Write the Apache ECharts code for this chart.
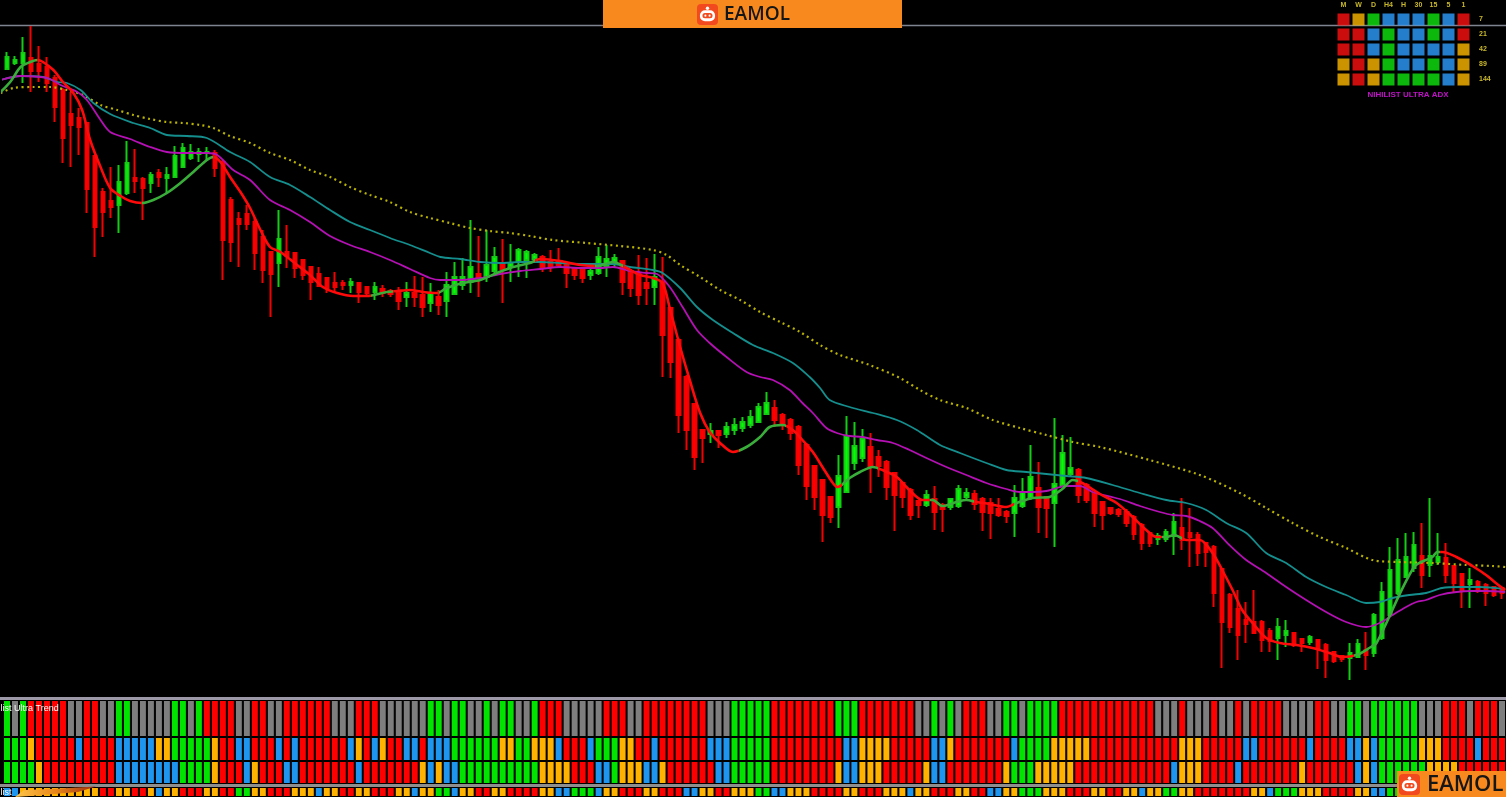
<!DOCTYPE html>
<html><head><meta charset="utf-8">
<script src="https://cdn.jsdelivr.net/npm/echarts/dist/echarts.min.js"></script>
<style>html,body{margin:0;padding:0;background:#000;}#c{width:1506px;height:797px;}</style>
</head><body><div id="c"></div>
<script>
// ---------- DATA ----------
// candles: [open, close, low, high]
const ohlc = [
[1931,1943,1930,1948],[1937,1940,1935,1944],[1937,1947,1917,1963],[1942,1929,1908,1974],[1936,1929,1918,1954],
[1933,1917,1908,1943],[1922,1893,1878,1925],[1910,1862,1837,1912],[1886,1875,1833,1908],[1882,1873,1845,1892],
[1877,1811,1787,1878],[1844,1773,1743,1845],[1808,1788,1763,1812],[1799,1793,1782,1833],[1795,1818,1767,1835],
[1807,1837,1805,1859],[1822,1819,1807,1851],[1821,1812,1780,1823],[1817,1825,1807,1828],[1827,1823,1813,1831],
[1822,1825,1807,1833],[1823,1844,1823,1854],[1833,1852,1832,1857],[1842,1848,1840,1856],[1846,1848,1838,1852],
[1847,1848,1840,1853],[1847,1832,1823,1850],[1838,1760,1720,1840],[1800,1758,1738,1803],[1781,1776,1733,1788],
[1786,1776,1770,1795],[1778,1747,1730,1782],[1763,1730,1717,1770],[1748,1726,1683,1748],[1737,1761,1713,1790],
[1748,1744,1732,1775],[1747,1732,1722,1748],[1740,1725,1720,1741],[1733,1718,1700,1734],[1726,1714,1713,1733],
[1722,1712,1707,1722],[1717,1713,1707,1728],[1717,1715,1710,1720],[1715,1718,1707,1722],[1717,1708,1697,1718],
[1713,1707,1703,1714],[1708,1713,1700,1718],[1711,1707,1703,1715],[1709,1706,1703,1711],[1708,1699,1690,1713],
[1703,1707,1693,1718],[1707,1703,1693,1724],[1705,1693,1683,1723],[1697,1707,1688,1717],[1703,1695,1685,1710],
[1699,1715,1683,1728],[1706,1723,1705,1738],[1715,1723,1710,1742],[1718,1733,1707,1780],[1726,1722,1703,1764],
[1723,1735,1718,1770],[1729,1743,1727,1753],[1736,1731,1697,1761],[1733,1737,1718,1756],[1738,1750,1723,1752],
[1740,1748,1722,1750],[1741,1745,1737,1747],[1743,1732,1728,1745],[1738,1733,1728,1750],[1738,1735,1732,1752],
[1737,1727,1712,1738],[1732,1725,1720,1733],[1730,1722,1717,1731],[1725,1729,1720,1735],[1727,1743,1725,1753],
[1734,1741,1723,1755],[1737,1742,1732,1746],[1739,1718,1705,1740],[1729,1712,1703,1731],[1727,1705,1695,1745],
[1717,1712,1695,1742],[1713,1723,1695,1746],[1718,1665,1623,1743],[1692,1638,1622,1693],[1660,1585,1567,1662],
[1623,1570,1550,1625],[1596,1543,1530,1597],[1570,1562,1537,1571],[1566,1569,1557,1577],[1569,1565,1552,1570],
[1566,1573,1562,1578],[1570,1575,1565,1582],[1572,1578,1568,1583],[1575,1583,1572,1590],[1578,1593,1577,1597],
[1586,1597,1585,1608],[1592,1580,1573,1600],[1585,1575,1570,1587],[1580,1567,1560,1582],[1573,1535,1525,1575],
[1555,1514,1500,1557],[1534,1503,1490,1535],[1520,1485,1458,1521],[1503,1483,1477,1504],[1493,1524,1472,1545],
[1508,1564,1507,1584],[1537,1554,1530,1578],[1542,1561,1538,1571],[1553,1533,1507,1567],[1543,1534,1523,1550],
[1538,1513,1500,1540],[1527,1505,1469,1528],[1517,1503,1492,1518],[1510,1485,1480,1512],[1499,1495,1482,1500],
[1495,1505,1493,1510],[1501,1488,1470,1514],[1495,1491,1468,1497],[1493,1501,1490,1502],[1494,1511,1492,1515],
[1503,1507,1500,1512],[1506,1496,1490,1510],[1501,1488,1469,1503],[1497,1487,1461,1502],[1491,1485,1483,1502],
[1488,1484,1477,1490],[1487,1502,1463,1515],[1494,1508,1492,1522],[1502,1523,1500,1555],[1512,1493,1467,1538],
[1503,1492,1462,1503],[1497,1516,1453,1582],[1515,1547,1513,1565],[1526,1532,1523,1563],[1530,1505,1497,1532],
[1515,1500,1497,1517],[1507,1487,1473,1508],[1498,1485,1470,1498],[1492,1487,1485,1493],[1490,1486,1483,1492],
[1488,1477,1473,1491],[1483,1466,1460,1485],[1475,1457,1450,1477],[1467,1457,1453,1468],[1461,1464,1455,1467],
[1461,1468,1458,1471],[1464,1478,1445,1487],[1472,1460,1450,1502],[1467,1463,1433,1492],[1465,1447,1434,1468],
[1457,1448,1433,1457],[1453,1407,1393,1455],[1431,1378,1332,1432],[1405,1373,1367,1407],[1391,1365,1340,1410],
[1380,1376,1357,1398],[1378,1367,1366,1410],[1378,1360,1348,1380],[1369,1359,1348,1372],[1362,1373,1340,1382],
[1365,1369,1353,1380],[1367,1355,1353,1368],[1361,1357,1348,1362],[1358,1363,1355,1365],[1360,1351,1331,1361],
[1355,1340,1322,1357],[1348,1339,1337,1349],[1344,1341,1338,1345],[1342,1347,1320,1357],[1343,1356,1342,1361],
[1350,1345,1330,1368],[1347,1385,1343,1387],[1362,1408,1360,1418],[1385,1430,1383,1453],[1407,1440,1405,1462],
[1423,1443,1422,1467],[1432,1455,1428,1468],[1444,1425,1412,1477],[1435,1444,1423,1502],[1438,1443,1435,1467],
[1442,1425,1417,1457],[1434,1417,1408,1435],[1426,1410,1392,1427],[1416,1420,1392,1432],[1418,1410,1407,1420],
[1415,1407,1394,1417],[1413,1405,1403,1414],[1412,1407,1401,1413]
];

// moving-average lines: [bar position, price]
const fastMA = [[-0.8,1908],[0.4,1918],[1.7,1933],[2.9,1938],[3.8,1940],[4.5,1938],[5.8,1930],[7,1918],[8.3,1907],[9.4,1890],
[10.4,1860],[11.7,1833],[12.9,1812],[14.2,1804],[15.4,1799],[16.9,1797],[18.3,1800],[20,1807],[21.7,1817],[23.3,1828],
[25,1840],[25.8,1843],[26.7,1838],[27.9,1823],[29.2,1808],[30.4,1792],[31.7,1770],[32.9,1753],[34.2,1748],[36.3,1735],
[37.9,1725],[39.5,1713],[41.3,1707],[43.3,1704],[45,1704],[47.5,1708],[48.8,1709],[50.4,1710],[52,1708],[53.8,1707],
[55,1712],[57,1717],[59.2,1720],[61.3,1727],[63.3,1733],[65.4,1737],[66.7,1741],[69.2,1739],[71.7,1735],[73.8,1734],
[75.8,1738],[77.5,1732],[79.2,1725],[80.8,1722],[82,1717],[82.9,1692],[84.2,1653],[85.4,1620],[86.7,1587],[87.9,1568],
[89.2,1557],[90.8,1548],[92.5,1553],[94.2,1563],[95.4,1573],[97,1575],[98.3,1570],[99.5,1560],[100.8,1548],[102,1533],
[103.3,1517],[103.9,1513],[105.4,1522],[106.7,1528],[108.3,1533],[109.5,1530],[111.3,1523],[112.5,1513],[113.8,1503],[114.5,1500],
[115.8,1500],[117,1494],[118.8,1498],[120,1500],[121.3,1498],[122.9,1496],[125,1493],[126.3,1497],[128.3,1502],[130.4,1503],
[132,1511],[133.3,1520],[134.5,1517],[136.7,1506],[138.8,1497],[140.8,1483],[142.5,1470],[143.8,1463],[145,1463],[146,1465],
[147.5,1460],[149.2,1460],[150.8,1447],[152,1430],[153.3,1410],[154.5,1390],[155.8,1377],[157.5,1362],[159.2,1357],[161.3,1355],
[163.3,1352],[165.4,1347],[167,1343],[168.8,1345],[170.4,1352],[171.3,1357],[176,1433],[178.3,1443],[178.9,1448],[179.5,1448],
[181.3,1443],[183.3,1434],[185,1425],[186.7,1414],[187.4,1410]];
const fastUpRanges = [[-1,3.8],[16.9,25.8],[45.5,48.3],[54,66],[73.5,77],[91.5,97.5],[104.5,109],[115.5,121],[126,134],[144.5,147],[168.5,179.2]];

const magentaMA = [[-0.8,1920],[1.7,1924],[4.2,1923],[5.4,1921],[6.7,1915],[8.8,1908],[10,1900],[11.7,1880],[12.9,1868],[15.4,1861],
[17.9,1853],[20,1848],[22.5,1847],[25,1847],[26.3,1845],[28.3,1830],[30.4,1820],[32.9,1800],[35.4,1790],[37.9,1778],
[40.4,1764],[42.9,1755],[45.4,1748],[47.9,1740],[50.4,1731],[52.9,1722],[54.2,1720],[56.7,1720],[59.2,1722],[61.7,1726],
[64.2,1729],[66.7,1731],[69.2,1733],[71.7,1732],[74.2,1732],[75.8,1733],[77.9,1729],[80,1727],[81.3,1726],[82.9,1713],
[84.5,1693],[86.3,1670],[87.9,1657],[90,1643],[92.5,1628],[94.2,1623],[95.8,1620],[97.9,1610],[99.5,1597],[100.8,1587],
[102.5,1572],[103.8,1567],[105.4,1564],[107,1563],[108.8,1560],[110.8,1557],[112.9,1550],[115,1542],[117.5,1533],[120,1525],
[122.5,1517],[125,1511],[126.7,1508],[128.3,1508],[130,1509],[131.3,1512],[132.5,1514],[134.2,1514],[135.8,1508],[136.7,1506],
[139.2,1501],[141.7,1494],[144.2,1488],[145.8,1485],[147.5,1484],[149.2,1479],[150.8,1472],[152.9,1455],[155,1440],[157.5,1427],
[160,1413],[162.5,1400],[165,1388],[167.5,1378],[170,1373],[171.7,1377],[173.3,1385],[175,1393],[176.3,1398],[177.5,1400],
[179.2,1405],[181.3,1408],[183.3,1409],[185,1409],[187.4,1408]];

const tealMA = [[-0.8,1920],[1.7,1924],[4.5,1923],[6.3,1918],[7.5,1917],[9.2,1910],[10.8,1897],[12.9,1886],[15.8,1877],[17.9,1872],
[20,1865],[22.5,1864],[25,1862],[27.9,1848],[30.4,1838],[32.9,1823],[35.4,1815],[37.9,1803],[40.4,1790],[42.9,1778],
[45.4,1770],[47.9,1762],[50.4,1755],[52.9,1747],[54.2,1743],[56.7,1741],[59.2,1738],[61.7,1737],[64.2,1738],[66.7,1738],
[69.2,1737],[72.5,1736],[75.8,1736],[77.9,1733],[80.8,1730],[82,1727],[84.2,1712],[86.3,1693],[88.3,1680],[90.8,1667],
[93.3,1655],[95.8,1647],[98.3,1637],[100.4,1623],[101.7,1612],[102.9,1600],[105.4,1593],[108.3,1587],[111.3,1580],[113.8,1570],
[116.7,1555],[119.2,1547],[122.5,1537],[125,1530],[127.5,1528],[130,1526],[132.5,1524],[135,1522],[138.3,1515],[141.7,1507],
[145,1500],[147.5,1497],[150,1490],[152.5,1477],[155,1467],[157.5,1447],[160,1437],[162.5,1423],[165,1413],[167.5,1405],
[170,1397],[171.7,1398],[173.3,1402],[175.4,1405],[177.5,1407],[179.5,1412],[181.7,1413],[184.2,1413],[187.4,1411]];

const yellowMA = [[-0.8,1907],[0.8,1912],[3.3,1913],[5.4,1913],[7.5,1910],[9.5,1905],[11.7,1895],[13.8,1890],[15.8,1885],[17.9,1881],
[20,1878],[22,1877],[24.2,1875],[25.8,1872],[27.9,1864],[30.4,1857],[32.9,1847],[35.4,1840],[37.9,1830],[40.4,1823],
[42.9,1813],[45.4,1805],[47.9,1798],[50.4,1788],[52.9,1782],[55.4,1777],[57.9,1772],[60.4,1769],[62.9,1767],[65.4,1764],
[68.3,1760],[72.5,1757],[76.7,1754],[80.8,1750],[82.5,1745],[84.2,1735],[86.7,1723],[89.2,1710],[91.7,1700],[94.2,1688],
[96.7,1678],[99.2,1668],[101.7,1655],[104.2,1645],[107.9,1635],[111.7,1622],[114.2,1610],[116.7,1600],[120,1592],[123.3,1580],
[126.7,1572],[130,1565],[133.3,1558],[136.7,1553],[142.9,1540],[149.2,1525],[154.2,1507],[157.5,1492],[160.8,1477],[164.2,1463],
[167.5,1452],[170.8,1440],[174.2,1438],[178.3,1437],[182.5,1435],[185.8,1434],[187.4,1433]];

// bottom indicator rows (run-length: colour code + count). R red, G green, K grey, B blue, O orange
const trendRow1 = "G1 K1 G1 R5 K2 R2 K2 G2 K5 G2 K1 G1 R4 K2 R2 K2 R6 K3 R3 K6 G2 K1 G2 K2 G1 K1 G2 K2 G1 R3 K5 R3 K2 R8 K3 G5 R8 G3 R7 K2 G1 K1 G1 K1 R3 K2 G2 K1 G4 R12 K3 R1 K3 R1 K2 R1 K1 R4 K2 K2 R2 K2 G2 K1 G6 K3 R3 K1 R3 K1";
const trendRow2 = "G3 O1 R5 B1 R4 B5 O2 G5 O1 R2 B2 R3 B1 R1 B1 R6 B1 O1 R1 B1 O1 R2 B2 R1 B3 G6 O2 G2 O3 B1 R3 B1 G3 O2 R2 B1 R6 B3 G5 R9 B2 O4 R5 B2 O1 R7 B1 G4 O5 R11 O3 R5 B2 R5 R1 B1 R4 B2 O1 B1 G5 O3 R4 B1 R3";
const trendRow3 = "G4 O1 R9 B8 G4 O1 R3 B1 O1 R3 B2 R7 B1 R7 O1 B1 O1 B2 G10 O4 R3 B2 G1 O3 B2 O1 R6 B2 G5 R8 O1 B2 O3 R5 O1 B2 R7 O1 G3 O5 R12 B1 O3 R4 B1 R7 O1 R6 B1 O1 B1 G6 O4 R6";
const trendRow4 = "B2 O10 R2 O2 R2 O1 B1 O2 R3 O2 R2 G2 O2 R3 O3 B1 O2 R2 O2 R3 O2 B1 O2 G2 B1 O2 R2 O2 R4 O2 B2 G3 B1 O2 R3 O2 R3 B2 O2 R2 O3 G2 B2 O3 R4 O2 R3 O3 B1 O2 R3 O2 R2 B2 O2 G3 O3 R3 O2 R2 O2 B1 O2 G2 O2 R4 R3 O2 B1 G3 O3 R4 O2 B2 G4 O3 R3 O2 R2";

// ADX matrix
const adxCols = ['M','W','D','H4','H','30','15','5','1'];
const adxRows = ['7','21','42','89','144'];
const adxCells = [
 'R O G B B B G B R',
 'R R B G B B G B R',
 'R R B G B B B B O',
 'O R O G B B G B O',
 'O R O G G G G B O'
];

// ---------- BUILD ----------
const PAL = {R:'#FF0000', G:'#00E400', K:'#7E7E7E', B:'#1E96F0', O:'#FFB300'};
const ADXPAL = {R:'#FF1010', G:'#10E610', B:'#2E9EFF', O:'#FFB800'};
function rle(s){const out=[];s.trim().split(/\s+/).forEach(t=>{const c=t[0],n=+t.slice(1);for(let i=0;i<n;i++)out.push(c);});return out;}
const N = ohlc.length;
const cats = ohlc.map((_,i)=>i);
function rowData(str,h){return rle(str).map(c=>({value:h,itemStyle:{color:PAL[c]}}));}
const adxData=[];
adxCells.forEach((r,j)=>r.split(' ').forEach((c,i)=>adxData.push({value:[i,j],itemStyle:{color:ADXPAL[c]}})));

function logo(x,y,s,fs,tx){
  return {type:'group',x:x,y:y,z:100,children:[
    {type:'rect',shape:{x:0,y:0,width:s,height:s,r:4},style:{fill:'#F24A1E'},z:100},
    {type:'circle',shape:{cx:s*0.5,cy:s*0.2,r:s*0.08},style:{fill:'#fff'},z:101},
    {type:'rect',shape:{x:s*0.14,y:s*0.3,width:s*0.72,height:s*0.52,r:s*0.24},style:{fill:'#fff'},z:101},
    {type:'rect',shape:{x:s*0.26,y:s*0.43,width:s*0.48,height:s*0.25,r:s*0.12},style:{fill:'#F24A1E'},z:102},
    {type:'circle',shape:{cx:s*0.4,cy:s*0.555,r:s*0.05},style:{fill:'#fff'},z:103},
    {type:'circle',shape:{cx:s*0.6,cy:s*0.555,r:s*0.05},style:{fill:'#fff'},z:103},
    {type:'text',x:tx,y:s/2,z:103,style:{text:'EAMOL',fill:'#161616',font:'600 '+fs+'px "Open Sans", sans-serif',textVerticalAlign:'middle'}}
  ]};
}

const chart = echarts.init(document.getElementById('c'), null, {renderer:'canvas'});
const hidden = {show:false};
chart.setOption({
  backgroundColor:'#000',
  animation:false,
  grid:[
    {left:3,width:1504,top:25,height:672},
    {left:3,width:1504,top:700,height:84},
    {left:3,width:1504,top:787,height:20},
    {left:1336,top:12,width:135,height:75}
  ],
  xAxis:[
    {type:'category',gridIndex:0,data:cats,boundaryGap:true,show:false},
    {type:'value',gridIndex:0,min:-0.5,max:N-0.5,show:false},
    {type:'category',gridIndex:1,data:cats,show:false},
    {type:'category',gridIndex:2,data:cats,show:false},
    {type:'category',gridIndex:3,data:adxCols,position:'top',axisLine:hidden,axisTick:hidden,splitLine:hidden,
     axisLabel:{color:'#C9B82C',fontSize:7,margin:3,fontFamily:'Liberation Sans',fontWeight:'bold'}}
  ],
  yAxis:[
    {type:'value',gridIndex:0,min:1303,max:1975,show:false},
    {type:'value',gridIndex:1,min:0,max:84,show:false},
    {type:'value',gridIndex:2,min:0,max:20,show:false},
    {type:'category',gridIndex:3,data:adxRows,inverse:true,position:'right',axisLine:hidden,axisTick:hidden,splitLine:hidden,
     axisLabel:{color:'#C9B82C',fontSize:7,margin:8,fontFamily:'Liberation Sans',fontWeight:'bold'}}
  ],
  visualMap:[{type:'piecewise',show:false,dimension:0,seriesIndex:4,
    pieces:fastUpRanges.map(r=>({gte:r[0],lt:r[1],color:'#3AAE3A'})),
    outOfRange:{color:'#FF0A0A'}}],
  series:[
    {type:'candlestick',xAxisIndex:0,yAxisIndex:0,data:ohlc,barWidth:4,z:2,
     itemStyle:{color:'#00FF00',color0:'#FF0000',borderColor:'#14CC14',borderColor0:'#F40000',borderWidth:2}},
    {type:'line',xAxisIndex:1,yAxisIndex:0,data:yellowMA,showSymbol:false,smooth:0.3,clip:false,z:3,
     lineStyle:{color:'#B9B300',width:2.2,type:[2,3.5]}},
    {type:'line',xAxisIndex:1,yAxisIndex:0,data:tealMA,showSymbol:false,smooth:0.3,clip:false,z:3,
     lineStyle:{color:'#158E8E',width:1.8}},
    {type:'line',xAxisIndex:1,yAxisIndex:0,data:magentaMA,showSymbol:false,smooth:0.3,clip:false,z:4,
     lineStyle:{color:'#B410B4',width:1.8}},
    {type:'line',xAxisIndex:1,yAxisIndex:0,data:fastMA,showSymbol:false,smooth:0.3,clip:false,z:5,
     lineStyle:{width:2.6}},
    {type:'bar',xAxisIndex:2,yAxisIndex:1,stack:'t',data:rowData(trendRow3,23),barCategoryGap:'0%',
     itemStyle:{borderColor:'#000',borderWidth:1}},
    {type:'bar',xAxisIndex:2,yAxisIndex:1,stack:'t',data:rowData(trendRow2,24),barCategoryGap:'0%',
     itemStyle:{borderColor:'#000',borderWidth:1}},
    {type:'bar',xAxisIndex:2,yAxisIndex:1,stack:'t',data:rowData(trendRow1,37),barCategoryGap:'0%',
     itemStyle:{borderColor:'#000',borderWidth:1}},
    {type:'bar',xAxisIndex:3,yAxisIndex:2,data:rowData(trendRow4,20),barCategoryGap:'0%',
     itemStyle:{borderColor:'#000',borderWidth:1}},
    {type:'scatter',xAxisIndex:4,yAxisIndex:3,data:adxData,symbol:'rect',symbolSize:12,z:5}
  ],
  graphic:[
    {type:'line',shape:{x1:0,y1:25.5,x2:1506,y2:25.5},style:{stroke:'#7F8590',lineWidth:1.5},z:0},
    {type:'rect',shape:{x:0,y:697,width:1506,height:3},style:{fill:'#9C98A8'},z:50},
    {type:'rect',shape:{x:0,y:784,width:1506,height:3},style:{fill:'#8E8E8E'},z:50},
    {type:'text',x:-15,y:704,z:60,style:{text:'Nihilist Ultra Trend',fill:'#FFFFFF',font:'9px "Liberation Sans", sans-serif'}},
    {type:'text',x:-15,y:788,z:60,style:{text:'Nihilist',fill:'#FFFFFF',font:'9px "Liberation Sans", sans-serif'}},
    {type:'polygon',z:60,shape:{points:[[15,797],[24,790],[60,788.5],[96,786.5],[78,792],[36,795.5]]},
     style:{fill:new echarts.graphic.LinearGradient(0,0,1,0,[{offset:0,color:'#FFC64A'},{offset:0.5,color:'#E8861A'},{offset:1,color:'#9A2A10'}])}},
    {type:'text',x:1408,y:95,z:60,style:{text:'NIHILIST ULTRA ADX',fill:'#C010C8',font:'bold 8px "Liberation Sans", sans-serif',textAlign:'center',textVerticalAlign:'middle'}},
    {type:'rect',shape:{x:603,y:0,width:299,height:28},style:{fill:'#F7891F'},z:90},
    logo(697,4,21,19,27),
    {type:'rect',shape:{x:1397,y:771,width:109,height:26},style:{fill:'#F7891F'},z:90},
    logo(1399,774,21,22,28)
  ]
});
</script>
</body></html>
